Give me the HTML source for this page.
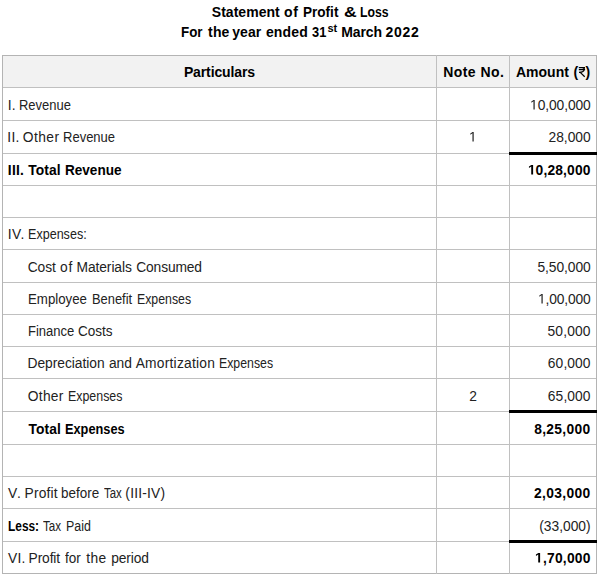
<!DOCTYPE html>
<html><head><meta charset="utf-8"><style>
html,body{margin:0;padding:0;background:#fff;}
body{width:600px;height:578px;position:relative;overflow:hidden;font-family:"Liberation Sans",sans-serif;color:#222;}
.l{position:absolute;}
.t{position:absolute;white-space:nowrap;}
.t b{font-weight:bold;}
sup{font-size:10px;line-height:0;vertical-align:0;position:relative;top:-5px;}
.o{position:relative;color:transparent;}
.o svg{position:absolute;left:0;top:-0.49px;width:0.5562em;height:1.1172em;overflow:visible;}
</style></head><body>
<div class="l" style="left:2px;top:55px;width:595px;height:33px;background:#f2f2f2"></div>
<div class="l" style="left:2px;top:55px;width:595px;height:1px;background:#b4b4b4"></div>
<div class="l" style="left:2px;top:87px;width:595px;height:1px;background:#c0c0c0"></div>
<div class="l" style="left:2px;top:120px;width:595px;height:1px;background:#c0c0c0"></div>
<div class="l" style="left:2px;top:153px;width:595px;height:1px;background:#c0c0c0"></div>
<div class="l" style="left:2px;top:185px;width:595px;height:1px;background:#c0c0c0"></div>
<div class="l" style="left:2px;top:217px;width:595px;height:1px;background:#c0c0c0"></div>
<div class="l" style="left:2px;top:249px;width:595px;height:1px;background:#c0c0c0"></div>
<div class="l" style="left:2px;top:282px;width:595px;height:1px;background:#c0c0c0"></div>
<div class="l" style="left:2px;top:314px;width:595px;height:1px;background:#c0c0c0"></div>
<div class="l" style="left:2px;top:346px;width:595px;height:1px;background:#c0c0c0"></div>
<div class="l" style="left:2px;top:378px;width:595px;height:1px;background:#c0c0c0"></div>
<div class="l" style="left:2px;top:411px;width:595px;height:1px;background:#c0c0c0"></div>
<div class="l" style="left:2px;top:444px;width:595px;height:1px;background:#c0c0c0"></div>
<div class="l" style="left:2px;top:476px;width:595px;height:1px;background:#c0c0c0"></div>
<div class="l" style="left:2px;top:508px;width:595px;height:1px;background:#c0c0c0"></div>
<div class="l" style="left:2px;top:541px;width:595px;height:1px;background:#c0c0c0"></div>
<div class="l" style="left:2px;top:573px;width:595px;height:1px;background:#b4b4b4"></div>
<div class="l" style="left:2px;top:55px;width:1px;height:519px;background:#b4b4b4"></div>
<div class="l" style="left:436px;top:55px;width:1px;height:519px;background:#c0c0c0"></div>
<div class="l" style="left:509px;top:55px;width:1px;height:519px;background:#c0c0c0"></div>
<div class="l" style="left:596px;top:55px;width:1px;height:519px;background:#b4b4b4"></div>
<div class="l" style="left:509px;top:152px;width:88px;height:3px;background:#000"></div>
<div class="l" style="left:509px;top:410px;width:88px;height:3px;background:#000"></div>
<div class="l" style="left:509px;top:540px;width:88px;height:3px;background:#000"></div>
<div class="t" style="top:3.15px;font-size:14px;line-height:18px;font-weight:bold;color:#000;letter-spacing:0.022px;left:211.841px;">Statement</div>
<div class="t" style="top:3.15px;font-size:14px;line-height:18px;font-weight:bold;color:#000;letter-spacing:0.687px;left:283.892px;">of</div>
<div class="t" style="top:3.15px;font-size:14px;line-height:18px;font-weight:bold;color:#000;left:302.653px;transform:scaleX(0.9682);transform-origin:0 0;">Profit</div>
<div class="t" style="top:3.15px;font-size:14px;line-height:18px;font-weight:bold;color:#000;left:343.931px;transform:scaleX(1.2588);transform-origin:0 0;">&amp;</div>
<div class="t" style="top:3.15px;font-size:14px;line-height:18px;font-weight:bold;color:#000;left:359.708px;transform:scaleX(0.8738);transform-origin:0 0;">Loss</div>
<div class="t" style="top:23.15px;font-size:14px;line-height:18px;font-weight:bold;color:#000;left:181.169px;transform:scaleX(0.9543);transform-origin:0 0;">For</div>
<div class="t" style="top:23.15px;font-size:14px;line-height:18px;font-weight:bold;color:#000;letter-spacing:0.165px;left:208.063px;">the</div>
<div class="t" style="top:23.15px;font-size:14px;line-height:18px;font-weight:bold;color:#000;letter-spacing:0.118px;left:232.143px;">year</div>
<div class="t" style="top:23.15px;font-size:14px;line-height:18px;font-weight:bold;color:#000;letter-spacing:0.166px;left:265.892px;">ended</div>
<div class="t" style="top:23.15px;font-size:14px;line-height:18px;font-weight:bold;color:#000;left:311.975px;transform:scaleX(0.9185);transform-origin:0 0;">31</div>
<div class="t" style="top:21.19px;font-size:11px;line-height:14px;font-weight:bold;color:#000;letter-spacing:0.067px;left:327.406px;">st</div>
<div class="t" style="top:23.15px;font-size:14px;line-height:18px;font-weight:bold;color:#000;letter-spacing:-0.091px;left:341.149px;">March</div>
<div class="t" style="top:23.15px;font-size:14px;line-height:18px;font-weight:bold;color:#000;letter-spacing:0.706px;left:385.494px;">2022</div>
<div class="t" style="top:63.15px;font-size:14px;line-height:18px;font-weight:bold;color:#000;letter-spacing:-0.115px;left:69.442px;width:300px;text-align:center;">Particulars</div>
<div class="t" style="top:63.15px;font-size:14px;line-height:18px;font-weight:bold;color:#000;letter-spacing:0.442px;left:437.721px;width:72px;text-align:center;">Note No.</div>
<svg class="l" style="left:574px;top:64px" width="16" height="16" viewBox="574 64 16 16"><path d="M578.8 67.5H585M578.8 69.55H585.1M582 67.5C585.3 67.5 585.6 72.4 579 72.4M580.2 72.4L584.7 76.7" fill="none" stroke="#000" stroke-width="1.25"/></svg>
<div class="t" style="top:63.15px;font-size:14px;line-height:18px;font-weight:bold;color:#000;left:516px;">Amount</div>
<div class="t" style="top:63.15px;font-size:14px;line-height:18px;font-weight:bold;color:#000;left:573.6px;">(</div>
<div class="t" style="top:63.15px;font-size:14px;line-height:18px;font-weight:bold;color:#000;left:585.5px;">)</div>
<div class="t" style="top:96.72px;font-size:13.8px;line-height:17px;letter-spacing:0.248px;left:7.667px;">I.</div>
<div class="t" style="top:96.72px;font-size:13.8px;line-height:17px;left:19.09px;transform:scaleX(0.9409);transform-origin:0 0;">Revenue</div>
<div class="t" style="top:96.72px;font-size:13.8px;line-height:17px;letter-spacing:-0.098px;right:9.400px;text-align:right;"><span class="o">1<svg viewBox="0 0 1139 2288" preserveAspectRatio="none"><path d="M515 1854V617L197 844V674L530 445H696V1854Z" fill="#222"/></svg></span>0,00,000</div>
<div class="t" style="top:128.72px;font-size:13.8px;line-height:17px;letter-spacing:0.230px;left:7.367px;">II.</div>
<div class="t" style="top:128.72px;font-size:13.8px;line-height:17px;letter-spacing:0.438px;left:22.806px;">Other</div>
<div class="t" style="top:128.72px;font-size:13.8px;line-height:17px;left:63.086px;transform:scaleX(0.9427);transform-origin:0 0;">Revenue</div>
<div class="t" style="top:128.72px;font-size:13.8px;line-height:17px;left:437.000px;width:72px;text-align:center;"><span class="o">1<svg viewBox="0 0 1139 2288" preserveAspectRatio="none"><path d="M515 1854V617L197 844V674L530 445H696V1854Z" fill="#222"/></svg></span></div>
<div class="t" style="top:128.72px;font-size:13.8px;line-height:17px;letter-spacing:-0.018px;right:9.400px;text-align:right;">28,000</div>
<div class="t" style="top:161.72px;font-size:13.8px;line-height:17px;font-weight:bold;color:#000;letter-spacing:0.249px;left:7.849px;">III.</div>
<div class="t" style="top:161.72px;font-size:13.8px;line-height:17px;font-weight:bold;color:#000;letter-spacing:0.121px;left:28.163px;">Total</div>
<div class="t" style="top:161.72px;font-size:13.8px;line-height:17px;font-weight:bold;color:#000;left:65.369px;transform:scaleX(0.9828);transform-origin:0 0;">Revenue</div>
<div class="t" style="top:161.72px;font-size:13.8px;line-height:17px;font-weight:bold;color:#000;letter-spacing:0.166px;right:9.400px;text-align:right;"><span class="o">1<svg viewBox="0 0 1139 2288" preserveAspectRatio="none"><path d="M478 1854V684L140 895V674L493 445H759V1854Z" fill="#000"/></svg></span>0,28,000</div>
<div class="t" style="top:225.72px;font-size:13.8px;line-height:17px;letter-spacing:0.580px;left:7.667px;">IV.</div>
<div class="t" style="top:225.72px;font-size:13.8px;line-height:17px;left:28.19px;transform:scaleX(0.9104);transform-origin:0 0;">Expenses:</div>
<div class="t" style="top:258.72px;font-size:13.8px;line-height:17px;letter-spacing:-0.114px;left:27.767px;">Cost</div>
<div class="t" style="top:258.72px;font-size:13.8px;line-height:17px;letter-spacing:0.706px;left:60.041px;">of</div>
<div class="t" style="top:258.72px;font-size:13.8px;line-height:17px;letter-spacing:-0.090px;left:76.567px;">Materials</div>
<div class="t" style="top:258.72px;font-size:13.8px;line-height:17px;letter-spacing:-0.146px;left:136.267px;">Consumed</div>
<div class="t" style="top:258.72px;font-size:13.8px;line-height:17px;letter-spacing:-0.067px;right:9.400px;text-align:right;">5,50,000</div>
<div class="t" style="top:290.72px;font-size:13.8px;line-height:17px;left:27.586px;transform:scaleX(0.9612);transform-origin:0 0;">Employee</div>
<div class="t" style="top:290.72px;font-size:13.8px;line-height:17px;left:91.79px;transform:scaleX(0.9334);transform-origin:0 0;">Benefit</div>
<div class="t" style="top:290.72px;font-size:13.8px;line-height:17px;left:137.394px;transform:scaleX(0.8926);transform-origin:0 0;">Expenses</div>
<div class="t" style="top:290.72px;font-size:13.8px;line-height:17px;letter-spacing:-0.148px;right:9.400px;text-align:right;"><span class="o">1<svg viewBox="0 0 1139 2288" preserveAspectRatio="none"><path d="M515 1854V617L197 844V674L530 445H696V1854Z" fill="#222"/></svg></span>,00,000</div>
<div class="t" style="top:322.72px;font-size:13.8px;line-height:17px;left:27.586px;transform:scaleX(0.9439);transform-origin:0 0;">Finance</div>
<div class="t" style="top:322.72px;font-size:13.8px;line-height:17px;left:77.782px;transform:scaleX(0.9816);transform-origin:0 0;">Costs</div>
<div class="t" style="top:322.72px;font-size:13.8px;line-height:17px;letter-spacing:0.144px;right:9.400px;text-align:right;">50,000</div>
<div class="t" style="top:354.72px;font-size:13.8px;line-height:17px;letter-spacing:-0.043px;left:27.567px;">Depreciation</div>
<div class="t" style="top:354.72px;font-size:13.8px;line-height:17px;letter-spacing:-0.107px;left:109.037px;">and</div>
<div class="t" style="top:354.72px;font-size:13.8px;line-height:17px;letter-spacing:0.224px;left:135.678px;">Amortization</div>
<div class="t" style="top:354.72px;font-size:13.8px;line-height:17px;left:219.394px;transform:scaleX(0.8926);transform-origin:0 0;">Expenses</div>
<div class="t" style="top:354.72px;font-size:13.8px;line-height:17px;letter-spacing:0.094px;right:9.400px;text-align:right;">60,000</div>
<div class="t" style="top:387.72px;font-size:13.8px;line-height:17px;letter-spacing:0.263px;left:27.806px;">Other</div>
<div class="t" style="top:387.72px;font-size:13.8px;line-height:17px;left:68.394px;transform:scaleX(0.8985);transform-origin:0 0;">Expenses</div>
<div class="t" style="top:387.72px;font-size:13.8px;line-height:17px;left:437.000px;width:72px;text-align:center;">2</div>
<div class="t" style="top:387.72px;font-size:13.8px;line-height:17px;letter-spacing:0.094px;right:9.400px;text-align:right;">65,000</div>
<div class="t" style="top:420.72px;font-size:13.8px;line-height:17px;font-weight:bold;color:#000;letter-spacing:0.084px;left:28.563px;">Total</div>
<div class="t" style="top:420.72px;font-size:13.8px;line-height:17px;font-weight:bold;color:#000;left:65.492px;transform:scaleX(0.9249);transform-origin:0 0;">Expenses</div>
<div class="t" style="top:420.72px;font-size:13.8px;line-height:17px;font-weight:bold;color:#000;letter-spacing:0.347px;right:9.400px;text-align:right;">8,25,000</div>
<div class="t" style="top:484.72px;font-size:13.8px;line-height:17px;letter-spacing:1.000px;left:8.078px;">V.</div>
<div class="t" style="top:484.72px;font-size:13.8px;line-height:17px;letter-spacing:0.150px;left:24.567px;">Profit</div>
<div class="t" style="top:484.72px;font-size:13.8px;line-height:17px;left:61.373px;transform:scaleX(0.9742);transform-origin:0 0;">before</div>
<div class="t" style="top:484.72px;font-size:13.8px;line-height:17px;left:103.975px;transform:scaleX(0.8275);transform-origin:0 0;">Tax</div>
<div class="t" style="top:484.72px;font-size:13.8px;line-height:17px;letter-spacing:0.192px;left:125.369px;">(III-IV)</div>
<div class="t" style="top:484.72px;font-size:13.8px;line-height:17px;font-weight:bold;color:#000;letter-spacing:0.368px;right:9.400px;text-align:right;">2,03,000</div>
<div class="t" style="top:517.72px;font-size:13.8px;line-height:17px;font-weight:bold;color:#000;left:8.231px;transform:scaleX(0.8622);transform-origin:0 0;">Less:</div>
<div class="t" style="top:517.72px;font-size:13.8px;line-height:17px;left:43.175px;transform:scaleX(0.842);transform-origin:0 0;">Tax</div>
<div class="t" style="top:517.72px;font-size:13.8px;line-height:17px;left:65.594px;transform:scaleX(0.8992);transform-origin:0 0;">Paid</div>
<div class="t" style="top:517.72px;font-size:13.8px;line-height:17px;right:9.400px;text-align:right;">(33,000)</div>
<div class="t" style="top:549.72px;font-size:13.8px;line-height:17px;letter-spacing:0.143px;left:8.078px;">VI.</div>
<div class="t" style="top:549.72px;font-size:13.8px;line-height:17px;letter-spacing:-0.134px;left:28.567px;">Profit</div>
<div class="t" style="top:549.72px;font-size:13.8px;line-height:17px;left:65.214px;transform:scaleX(0.98);transform-origin:0 0;">for</div>
<div class="t" style="top:549.72px;font-size:13.8px;line-height:17px;letter-spacing:0.339px;left:86.214px;">the</div>
<div class="t" style="top:549.72px;font-size:13.8px;line-height:17px;letter-spacing:-0.090px;left:111.153px;">period</div>
<div class="t" style="top:549.72px;font-size:13.8px;line-height:17px;font-weight:bold;color:#000;letter-spacing:0.220px;right:9.400px;text-align:right;"><span class="o">1<svg viewBox="0 0 1139 2288" preserveAspectRatio="none"><path d="M478 1854V684L140 895V674L493 445H759V1854Z" fill="#000"/></svg></span>,70,000</div>
</body></html>
